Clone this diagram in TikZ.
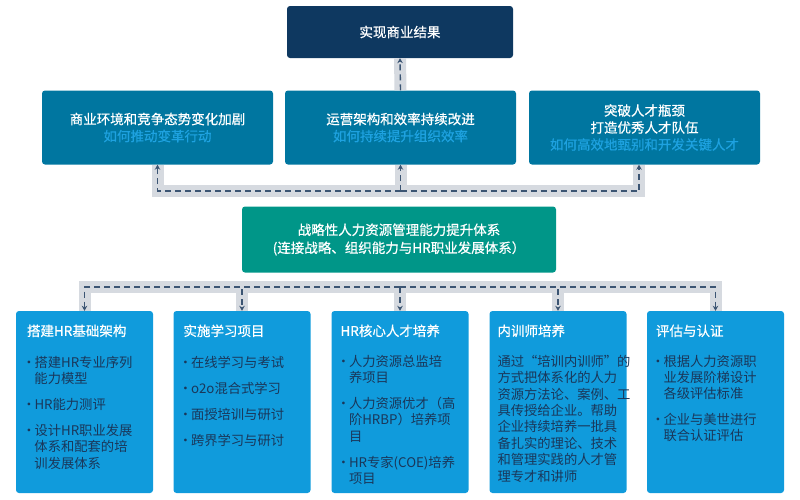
\documentclass[tikz,border=0pt]{standalone}
\usepackage{fontspec}
\setmainfont{Noto Sans CJK SC}
\newfontfamily\medfont{Noto Sans CJK SC}[FakeBold=0.6]
\usetikzlibrary{arrows.meta,calc}
\definecolor{navy}{HTML}{0E3860}
\definecolor{midblue}{HTML}{0076A0}
\definecolor{subblue}{HTML}{1EA2E0}
\definecolor{teal}{HTML}{009688}
\definecolor{brightblue}{HTML}{109BDC}
\definecolor{bodytext}{HTML}{1A375A}
\definecolor{bandgray}{HTML}{D6DAE0}
\definecolor{dashcol}{HTML}{3C5573}
\newcommand\bitem[1]{\makebox[7.5pt][l]{\hspace{-4.6pt}•}#1}
\newcommand\bcont{\hspace*{7.5pt}}
\tikzset{
  boxbase/.style={rectangle, rounded corners=3pt, inner sep=0pt, align=center,
    text=white, font=\medfont\fontsize{13.5}{17}\selectfont},
  topbox/.style={boxbase, fill=navy, minimum width=226pt, minimum height=52pt},
  midbox/.style={boxbase, fill=midblue, minimum width=231pt, minimum height=74pt},
  greenbox/.style={boxbase, fill=teal, minimum width=314pt, minimum height=66pt,
    font=\medfont\fontsize{13.5}{18}\selectfont},
  lowbox/.style={boxbase, fill=brightblue, minimum width=137pt, minimum height=182pt},
  lowtitle/.style={anchor=west, inner sep=0pt, text=white, font=\medfont\fontsize{13.5}{16}\selectfont},
  lowbody/.style={anchor=north west, inner sep=0pt, align=left, text=bodytext,
    font=\fontsize{13.3}{16.4}\selectfont},
  band/.style={draw=bandgray, line width=12pt, line join=miter},
  dashline/.style={draw=dashcol, line width=1.4pt, dash pattern=on 6pt off 4pt,
    -{Stealth[length=5pt,width=5.5pt]}},
}
\begin{document}
\begin{tikzpicture}[x=1pt,y=-1pt]
\useasboundingbox (0,0) rectangle (800,499);
% top
\node[topbox] (top) at (400,32) {实现商业结果};
% middle row
\node[midbox] (m1) at (157.5,127.5) {商业环境和竞争态势变化加剧\\{\color{subblue}如何推动变革行动}};
\node[midbox] (m2) at (400.5,127.5) {运营架构和效率持续改进\\{\color{subblue}如何持续提升组织效率}};
\node[midbox] (m3) at (644.5,127.5) {突破人才瓶颈\\打造优秀人才队伍\\{\color{subblue}如何高效地甄别和开发关键人才}};
% green
\node[greenbox] (core) at (399,239.5) {战略性人力资源管理能力提升体系\\(连接战略、组织能力与HR职业发展体系）};
% bottom boxes
\node[lowbox] (b1) at (84.5,402) {};
\node[lowbox] (b2) at (242,402) {};
\node[lowbox] (b3) at (400,402) {};
\node[lowbox] (b4) at (558,402) {};
\node[lowbox] (b5) at (715.5,402) {};
% titles
\node[lowtitle] (t1) at ($(b1.north west)+(11,20)$) {搭建HR基础架构};
\node[lowtitle] (t2) at ($(b2.north west)+(10,20)$) {实施学习项目};
\node[lowtitle] (t3) at ($(b3.north west)+(9,20)$) {HR核心人才培养};
\node[lowtitle] (t4) at ($(b4.north west)+(8,20)$) {内训师培养};
\node[lowtitle] (t5) at ($(b5.north west)+(9,20)$) {评估与认证};
% bodies
\node[lowbody] (x1) at ($(b1.north west)+(11,45)$) {\bitem{搭建HR专业序列}\\\bcont 能力模型\\[9.5pt]\bitem{HR能力测评}\\[9.5pt]\bitem{设计HR职业发展}\\\bcont 体系和配套的培\\\bcont 训发展体系};
\node[lowbody] (x2) at ($(b2.north west)+(10,45)$) {\bitem{在线学习与考试}\\[9.6pt]\bitem{o2o混合式学习}\\[9.6pt]\bitem{面授培训与研讨}\\[9.6pt]\bitem{跨界学习与研讨}};
\node[lowbody] (x3) at ($(b3.north west)+(10,44)$) {\bitem{人力资源总监培}\\\bcont 养项目\\[9.5pt]\bitem{人力资源优才（高}\\\bcont 阶HRBP）培养项\\\bcont 目\\[9.5pt]\bitem{HR专家(COE)培养}\\\bcont 项目};
\node[lowbody] (x4) at ($(b4.north west)+(8,44)$) {通过“培训内训师”的\\方式把体系化的人力\\资源方法论、案例、工\\具传授给企业。帮助\\企业持续培养一批具\\备扎实的理论、技术\\和管理实践的人才管\\理专才和讲师};
\node[lowbody] (x5) at ($(b5.north west)+(9,44)$) {\bitem{根据人力资源职}\\\bcont 业发展阶梯设计\\\bcont 各级评估标准\\[9pt]\bitem{企业与美世进行}\\\bcont 联合认证评估};
% upper connector
\coordinate (uh) at (400.5,191);
\coordinate (m3in) at ($(m3.south)+(-5.5,0)$);
\draw[band] (m1.south) |- (uh) -| (m3in);
\draw[band] (uh) -- (m2.south);
\draw[dashline] (uh) -| (m1.south);
\draw[dashline] (uh) -- (m2.south);
\draw[dashline] (uh) -| (m3in);
% top connector
\draw[band] (m2.north) -- (top.south);
\draw[dashline] (m2.north) -- (top.south);
% lower connector
\coordinate (lh) at (400,287);
\draw[band] (b1.north) |- (lh) -| (b5.north);
\draw[band] (b2.north) -- (b2.north |- lh);
\draw[band] (b3.north) -- (b3.north |- lh);
\draw[band] (b4.north) -- (b4.north |- lh);
\draw[dashline] (lh) -| (b1.north);
\draw[dashline] (lh) -| (b2.north);
\draw[dashline] (lh) -- (b3.north);
\draw[dashline] (lh) -| (b4.north);
\draw[dashline] (lh) -| (b5.north);
\end{tikzpicture}
\end{document}
